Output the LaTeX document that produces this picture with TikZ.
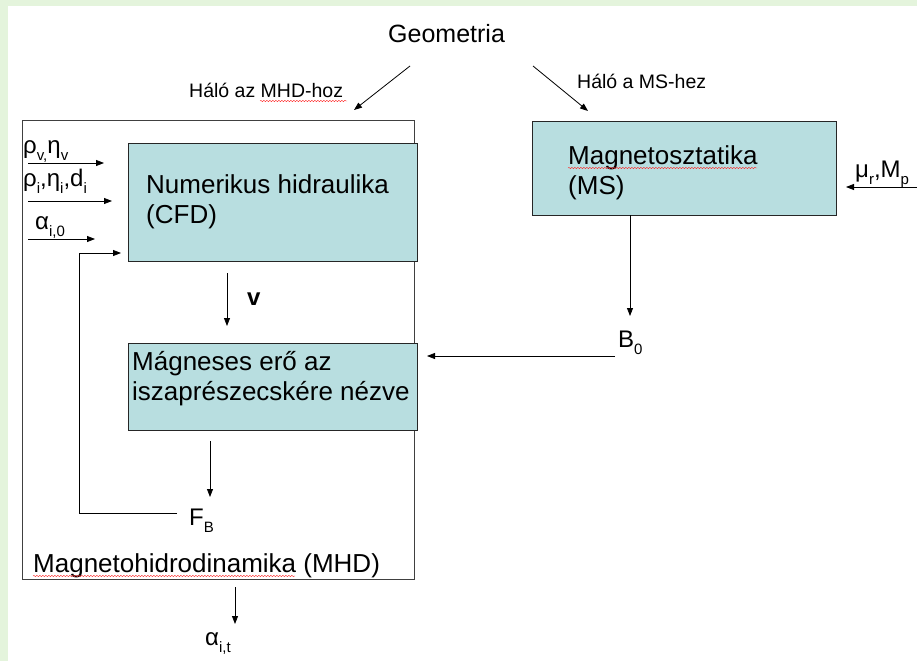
\documentclass[tikz,border=0pt]{standalone}
\usepackage{fontspec}
\setmainfont{Liberation Sans}
\usetikzlibrary{arrows.meta,decorations.pathmorphing}
\definecolor{bgg}{RGB}{228,244,220}
\definecolor{boxf}{RGB}{184,222,224}
\newcommand\sbx[1]{\raisebox{-0.3em}{\fontsize{15}{15}\selectfont #1}}
\begin{document}
\begin{tikzpicture}[x=1pt,y=-1pt,
  boxtxt/.style={inner sep=0pt, anchor=base west, font=\fontsize{26}{30}\selectfont},
  lbl/.style={inner sep=0pt, anchor=base west, font=\fontsize{24}{30}\selectfont},
  small/.style={inner sep=0pt, anchor=base west, font=\fontsize{19.5}{22}\selectfont},
  blk/.style={draw=black!85, fill=boxf, line width=0.9pt, inner sep=0pt},
  frame/.style={draw=black!75, line width=0.9pt, inner sep=0pt},
  arr/.style={-{Triangle[length=8pt,width=6pt]}, line width=0.8pt},
  squig/.style={red!85, line width=0.4pt, decorate, decoration={snake, amplitude=0.7pt, segment length=3pt}}]
\useasboundingbox (0,0) rectangle (917,661);
\fill[bgg] (0,0) rectangle (917,661);
\fill[white] (8,6) rectangle (917,661);

% big MHD frame
\node[frame, minimum width=392pt, minimum height=459pt] (mhd) at (218,349.5) {};
% boxes
\node[blk, minimum width=289pt, minimum height=118pt] (cfd) at (272.5,202) {};
\node[blk, minimum width=289pt, minimum height=87pt] (mag) at (272.5,386.5) {};
\node[blk, minimum width=304pt, minimum height=94pt] (ms) at (684,168) {};

% box texts
\node[boxtxt] (cfdA) at (146,193) {Numerikus hidraulika};
\node[boxtxt] (cfdB) at (146,223) {(CFD)};
\node[boxtxt] (magA) at (132,370) {Mágneses erő az};
\node[boxtxt] (magB) at (132,400) {iszaprészecskére nézve};
\node[boxtxt] (msA) at (568,164) {Magnetosztatika};
\node[boxtxt] (msB) at (568,194) {(MS)};
\node[boxtxt] (mhdt) at (33,572) {Magnetohidrodinamika (MHD)};

% top texts
\node[inner sep=0pt, anchor=base west, font=\fontsize{25}{30}\selectfont] (geo) at (388,43) {Geometria};
\node[small] (hmhd) at (189,97) {Háló az MHD-hoz};
\node[small] (hms) at (577,88) {Háló a MS-hez};

% variable labels
\node[lbl] (rv) at (23,153) {ρ\sbx{v,}η\sbx{v}};
\node[lbl] (ri) at (23,186) {ρ\sbx{i},η\sbx{i},d\sbx{i}};
\node[lbl] (a0) at (35,229) {α\sbx{i,0}};
\node[lbl] (mu) at (855,177) {μ\sbx{r},M\sbx{p}};
\node[lbl] (b0) at (618,347) {B\sbx{0}};
\node[lbl] (fb) at (189,525) {F\sbx{B}};
\node[lbl] (at) at (205,645) {α\sbx{i,t}};
\node[lbl] (v) at (247,305) {\textbf{v}};

% coordinates
\coordinate (g1) at (410,66);  \coordinate (g1e) at (354,110);
\coordinate (g2) at (533,66);  \coordinate (g2e) at (588,111);
\coordinate (i1s) at (28,163); \coordinate (i1e) at (104,163);
\coordinate (i2s) at (28,201); \coordinate (i2e) at (112,201);
\coordinate (i3s) at (28,239); \coordinate (i3e) at (95,239);
\coordinate (fbs) at (177,513); \coordinate (fbc) at (79,253); \coordinate (fbe) at (121,253);
\coordinate (vs) at (227,273); \coordinate (ve) at (227,326);
\coordinate (fs) at (210,441); \coordinate (fe) at (210,497);
\coordinate (os) at (235,587); \coordinate (oe) at (235,624);
\coordinate (mss) at (630,215); \coordinate (mse) at (630,316);
\coordinate (bs) at (615,356); \coordinate (be) at (427,356);
\coordinate (mus) at (917,187); \coordinate (mue) at (846,187);

% connectors
\draw[arr] (g1) -- (g1e);
\draw[arr] (g2) -- (g2e);
\draw[arr] (i1s) -- (i1e);
\draw[arr] (i2s) -- (i2e);
\draw[arr] (i3s) -- (i3e);
\draw[arr] (fbs) -| (fbc) -- (fbe);
\draw[arr] (vs) -- (ve);
\draw[arr] (fs) -- (fe);
\draw[arr] (os) -- (oe);
\draw[arr] (mss) -- (mse);
\draw[arr] (bs) -- (be);
\draw[arr] (mus) -- (mue);

% spell-check squiggles
\draw[squig] (260,101) -- (347,101);
\draw[squig] (568,168) -- (757,168);
\draw[squig] (33,576) -- (295,576);
\end{tikzpicture}
\end{document}
